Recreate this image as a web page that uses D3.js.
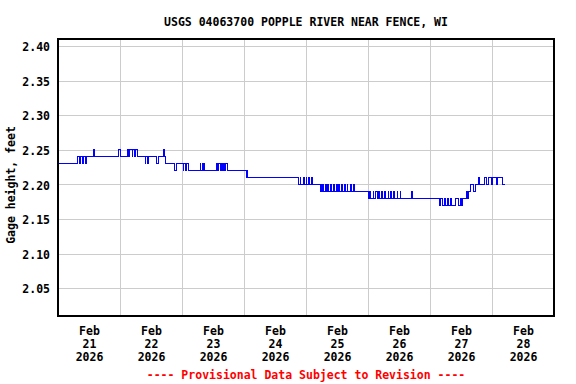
<!DOCTYPE html>
<html>
<head>
<meta charset="utf-8">
<script src="https://cdn.jsdelivr.net/npm/d3@7"></script>
<style>
    body {
        margin: 0;
        background: #fff;
    }
    svg {
        display: block;
        font-family: 'DejaVu Sans Mono', 'Liberation Mono', monospace;
        font-weight: bold;
        font-size: 11.5px;
    }
</style>
</head>
<body>
<svg id="chart" width="576" height="384"></svg>
<script>
    // gage height steps: [hours after Feb 21 00:00, feet] - value holds until next step
    const gageSteps = [
        [0, 2.23],
        [7.5, 2.24], [8.25, 2.23], [8.75, 2.24], [9.5, 2.23], [10.0, 2.24], [10.5, 2.23], [11.0, 2.24],
        [13.75, 2.25], [14.0, 2.24],
        [23.25, 2.25], [24.0, 2.24],
        [26.75, 2.25], [27.25, 2.24], [27.75, 2.25], [28.75, 2.24], [29.0, 2.25], [29.75, 2.24], [30.0, 2.25], [30.75, 2.24],
        [33.75, 2.23], [34.0, 2.24], [34.5, 2.23], [35.0, 2.24],
        [38.0, 2.23], [38.75, 2.24],
        [41.0, 2.25], [41.25, 2.24], [41.75, 2.23],
        [45.25, 2.22], [45.75, 2.23],
        [48.5, 2.22], [48.75, 2.23], [49.5, 2.22], [49.75, 2.23], [50.5, 2.22],
        [55.0, 2.23], [55.25, 2.22], [55.75, 2.23], [56.0, 2.22], [56.5, 2.23], [56.75, 2.22],
        [61.5, 2.23], [61.75, 2.22], [62.25, 2.23], [62.75, 2.22], [63.25, 2.23], [63.5, 2.22], [64.25, 2.23], [64.5, 2.22], [64.75, 2.23], [65.75, 2.22],
        [73.0, 2.21], [73.25, 2.22], [73.5, 2.21],
        [93.0, 2.20], [93.75, 2.21], [94.0, 2.20], [95.0, 2.21], [95.25, 2.20], [96.0, 2.21], [96.25, 2.20],
        [97.0, 2.21], [97.5, 2.20], [98.0, 2.21], [98.5, 2.20],
        [101.5, 2.19], [101.75, 2.20], [102.0, 2.19], [102.5, 2.20], [102.75, 2.19], [103.5, 2.20], [103.75, 2.19], [104.5, 2.20],
        [104.75, 2.19], [105.5, 2.20], [105.75, 2.19], [106.75, 2.20], [107.0, 2.19], [107.75, 2.20],
        [108.0, 2.19], [108.75, 2.20], [109.0, 2.19], [109.75, 2.20], [110.0, 2.19], [111.0, 2.20],
        [111.25, 2.19], [112.0, 2.20], [112.25, 2.19], [113.25, 2.20], [113.5, 2.19], [114.5, 2.20], [114.75, 2.19],
        [120.25, 2.18], [120.75, 2.19], [121.0, 2.18], [122.0, 2.19], [122.25, 2.18], [123.0, 2.19], [123.5, 2.18], [124.25, 2.19],
        [124.5, 2.18], [125.25, 2.19], [125.5, 2.18], [126.5, 2.19], [126.75, 2.18], [127.75, 2.19], [128.0, 2.18], [128.75, 2.19],
        [129.0, 2.18], [130.0, 2.19], [130.25, 2.18], [131.25, 2.19], [131.5, 2.18], [132.5, 2.19], [132.75, 2.18],
        [136.75, 2.19], [137.25, 2.18],
        [147.75, 2.17], [148.25, 2.18], [148.75, 2.17], [149.5, 2.18], [150.0, 2.17], [150.75, 2.18], [151.25, 2.17], [152.0, 2.18],
        [152.5, 2.17], [154.0, 2.18], [155.0, 2.17], [155.75, 2.18], [156.25, 2.17], [156.75, 2.18],
        [158.0, 2.19], [158.5, 2.18], [158.75, 2.19], [159.75, 2.20], [161.0, 2.19], [161.5, 2.20], [162.75, 2.21], [163.0, 2.20],
        [165.25, 2.21], [166.0, 2.20], [166.5, 2.21], [167.75, 2.20], [168.25, 2.21], [169.75, 2.20], [170.0, 2.21], [172.25, 2.20],
        [173.0, 2.20]
    ];

    const yTicks = [2.05, 2.10, 2.15, 2.20, 2.25, 2.30, 2.35, 2.40];
    const dayLabels = ["21", "22", "23", "24", "25", "26", "27", "28"];
    const monthLabel = "Feb";
    const yearLabel = "2026";
    const titleText = "USGS 04063700 POPPLE RIVER NEAR FENCE, WI";
    const yAxisText = "Gage height, feet";
    const footerText = "---- Provisional Data Subject to Revision ----";

    (function () {
        'use strict';

        const plotLeft = 58, plotRight = 554, plotTop = 39, plotBottom = 316;
        const start = Date.UTC(2026, 1, 21);
        const hour = 3600 * 1000;

        const svg = d3.select("#chart");

        const x = d3.scaleUtc()
            .domain([new Date(start), new Date(Date.UTC(2026, 2, 1))])
            .range([plotLeft, plotRight]);
        const y = d3.scaleLinear()
            .domain([2.01, 2.41])
            .range([plotBottom, plotTop]);

        // horizontal grid + value labels
        const yAxis = svg.append("g")
            .attr("transform", `translate(${plotLeft},0)`)
            .call(d3.axisLeft(y)
                .tickValues(yTicks)
                .tickSize(-(plotRight - plotLeft))
                .tickPadding(8)
                .tickFormat(d3.format(".2f")));
        yAxis.attr("font-family", null).attr("font-size", null);
        yAxis.select(".domain").remove();
        yAxis.selectAll("line").attr("stroke", "#cccccc").attr("shape-rendering", "crispEdges");
        yAxis.selectAll("text").attr("fill", "#000").attr("dy", "0.4em");

        // vertical grid at midnight
        const midnights = dayLabels.slice(1).map((d, i) => new Date(start + (i + 1) * 24 * hour));
        const xGrid = svg.append("g")
            .attr("transform", `translate(0,${plotBottom})`)
            .call(d3.axisBottom(x)
                .tickValues(midnights)
                .tickSize(-(plotBottom - plotTop))
                .tickFormat(""));
        xGrid.select(".domain").remove();
        xGrid.selectAll("line").attr("stroke", "#cccccc").attr("shape-rendering", "crispEdges");

        // date labels at noon
        const noons = dayLabels.map((d, i) => new Date(start + (i * 24 + 12) * hour));
        const xAxis = svg.append("g")
            .attr("transform", `translate(0,${plotBottom})`)
            .call(d3.axisBottom(x)
                .tickValues(noons)
                .tickSize(0)
                .tickFormat(""));
        xAxis.attr("font-family", null).attr("font-size", null);
        xAxis.select(".domain").remove();
        xAxis.selectAll(".tick text").each(function (d, i) {
            const t = d3.select(this).attr("y", null).attr("dy", null).attr("fill", "#000");
            [monthLabel, dayLabels[i], yearLabel].forEach((s, k) => {
                t.append("tspan").attr("x", 0).attr("y", 19 + k * 13).text(s);
            });
        });

        // data line
        const line = d3.line()
            .x(d => x(new Date(start + d[0] * hour)))
            .y(d => y(d[1]))
            .curve(d3.curveStepAfter);

        svg.append("path")
            .datum(gageSteps)
            .attr("fill", "none")
            .attr("stroke", "#0000ff")
            .attr("stroke-width", 1)
            .attr("shape-rendering", "crispEdges")
            .attr("d", line);

        // frame
        svg.append("rect")
            .attr("x", plotLeft)
            .attr("y", plotTop)
            .attr("width", plotRight - plotLeft)
            .attr("height", plotBottom - plotTop)
            .attr("fill", "none")
            .attr("stroke", "#000")
            .attr("stroke-width", 2);

        svg.append("text")
            .attr("x", (plotLeft + plotRight) / 2)
            .attr("y", 26)
            .attr("text-anchor", "middle")
            .text(titleText);

        svg.append("text")
            .attr("transform", "translate(15,185) rotate(-90)")
            .attr("text-anchor", "middle")
            .text(yAxisText);

        svg.append("text")
            .attr("x", (plotLeft + plotRight) / 2)
            .attr("y", 379)
            .attr("text-anchor", "middle")
            .attr("fill", "#ff0000")
            .text(footerText);
    })();
</script>
</body>
</html>
